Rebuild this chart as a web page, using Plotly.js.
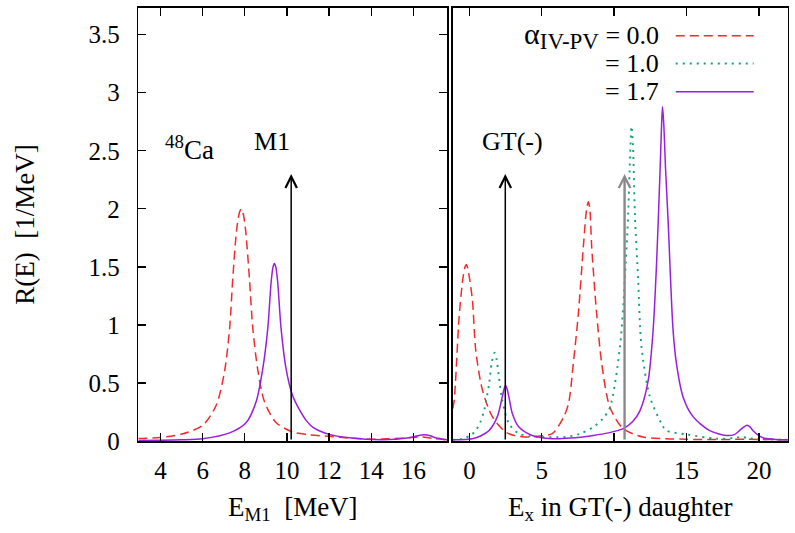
<!DOCTYPE html>
<html>
<head>
<meta charset="utf-8">
<script src="https://cdn.plot.ly/plotly-3.0.1.min.js"></script>
<style>html,body{margin:0;padding:0;background:#fff;}#plot{width:795px;height:533px;}</style>
</head>
<body>
<div id="plot"></div>
<script>
// ---- M1 strength in 48Ca (left panel) ----
const m1E_a00 = [2.95, 3.97, 5.07, 6.01, 6.65, 7.04, 7.28, 7.43, 7.62, 7.75, 7.83, 7.92, 8.03, 8.22, 8.38, 8.61, 8.93, 9.48, 10.27, 11.0, 12.0, 13.0, 14.05, 15.0, 15.94, 16.42, 16.9, 17.6];
const m1R_a00 = [0.022, 0.03, 0.063, 0.135, 0.31, 0.60, 0.97, 1.40, 1.83, 1.97, 2.00, 1.96, 1.83, 1.40, 0.97, 0.62, 0.34, 0.16, 0.077, 0.055, 0.04, 0.025, 0.015, 0.02, 0.03, 0.035, 0.022, 0.01];

const m1E_a17 = [2.95, 3.97, 5.0, 6.01, 7.28, 8.07, 8.54, 8.85, 9.09, 9.25, 9.34, 9.40, 9.47, 9.56, 9.72, 9.96, 10.27, 10.59, 10.9, 11.22, 12.0, 12.95, 14.53, 15.79, 16.2, 16.5, 16.8, 17.05, 17.6];
const m1R_a17 = [0.004, 0.006, 0.01, 0.02, 0.07, 0.16, 0.34, 0.62, 0.97, 1.37, 1.50, 1.53, 1.50, 1.37, 0.97, 0.62, 0.39, 0.27, 0.18, 0.12, 0.057, 0.028, 0.011, 0.028, 0.045, 0.054, 0.045, 0.028, 0.01];

// ---- GT(-) strength (right panel) ----
const gtE_a00 = [-1.15, -1.05, -0.71, -0.45, -0.30, -0.21, -0.10, 0.21, 0.44, 0.90, 1.58, 2.5, 3.2, 4.11, 5.0, 5.72, 6.49, 6.86, 7.18, 7.53, 7.87, 8.10, 8.22, 8.32, 8.45, 8.79, 9.14, 9.71, 10.63, 12.0, 13.6, 15.0, 17.0, 19.0, 22.0];
const gtR_a00 = [0.28, 0.35, 1.07, 1.40, 1.50, 1.52, 1.48, 1.21, 0.78, 0.44, 0.21, 0.077, 0.045, 0.034, 0.045, 0.063, 0.2, 0.33, 0.67, 1.10, 1.67, 2.0, 2.06, 2.0, 1.67, 1.10, 0.67, 0.29, 0.106, 0.034, 0.02, 0.015, 0.012, 0.015, 0.01];

const gtE_a10 = [-1.15, -0.48, 0.1, 0.44, 0.75, 1.01, 1.36, 1.55, 1.74, 1.88, 2.04, 2.27, 2.73, 3.42, 4.2, 5.03, 6.0, 6.63, 7.6, 8.56, 9.2, 9.71, 10.4, 10.74, 10.97, 11.1, 11.2, 11.3, 11.43, 11.66, 11.89, 12.47, 13.27, 13.6, 15.0, 17.06, 18.2, 18.8, 19.3, 19.8, 22.0];
const gtR_a10 = [0.01, 0.02, 0.05, 0.09, 0.16, 0.26, 0.49, 0.68, 0.76, 0.70, 0.55, 0.35, 0.15, 0.063, 0.042, 0.034, 0.032, 0.034, 0.06, 0.12, 0.19, 0.29, 0.81, 1.39, 1.96, 2.45, 2.71, 2.55, 1.96, 1.39, 0.81, 0.38, 0.15, 0.09, 0.057, 0.02, 0.025, 0.035, 0.025, 0.018, 0.01];

const gtE_a17 = [-1.15, 0.21, 0.8, 1.36, 1.93, 2.27, 2.4, 2.5, 2.6, 2.73, 2.96, 3.42, 4.34, 5.72, 7.0, 8.56, 9.6, 10.63, 11.3, 11.78, 12.35, 12.69, 12.93, 13.15, 13.27, 13.34, 13.42, 13.55, 13.73, 14.07, 14.3, 14.76, 15.45, 16.6, 17.75, 18.3, 18.66, 18.95, 19.17, 19.4, 19.58, 20.27, 21.0, 22.0];
const gtR_a17 = [0.01, 0.02, 0.045, 0.09, 0.21, 0.38, 0.45, 0.48, 0.45, 0.38, 0.24, 0.12, 0.048, 0.02, 0.025, 0.048, 0.07, 0.106, 0.17, 0.26, 0.52, 0.95, 1.53, 2.25, 2.7, 2.88, 2.75, 2.35, 1.89, 0.955, 0.67, 0.38, 0.21, 0.09, 0.048, 0.055, 0.09, 0.12, 0.135, 0.12, 0.09, 0.028, 0.015, 0.01];

// energies marked by arrows
const m1ArrowE = [10.2];
const gtArrowE = [2.48, 10.72];
const arrowTop = 2.3;

// axis ticks
const m1Ticks = [4, 6, 8, 10, 12, 14, 16];
const gtTicks = [0, 5, 10, 15, 20];
const rTicks = [0, 0.5, 1, 1.5, 2, 2.5, 3, 3.5];
const rTickText = ['0', '0.5', '1', '1.5', '2', '2.5', '3', '3.5'];

const legendLabels = [
  '<span style="font-size:30px">α</span><sub><span style="font-size:23px">IV-PV</span></sub> = 0.0',
  '= 1.0', '= 1.7'
];

const FONT = 'Liberation Serif, DejaVu Serif, serif';
const RED = '#f42a2a', GREEN = '#12a27a', PURPLE = '#9a1ee0';

const redLine = {color: RED, width: 1.5, dash: '9px,5px', shape: 'spline', smoothing: 0.8};
const greenLine = {color: GREEN, width: 1.9, dash: '2px,5px', shape: 'spline', smoothing: 0.8};
const purpleLine = {color: PURPLE, width: 1.5, shape: 'spline', smoothing: 0.8};

const traces = [
  {x: m1E_a00, y: m1R_a00, xaxis: 'x', yaxis: 'y', mode: 'lines', line: redLine},
  {x: m1E_a17, y: m1R_a17, xaxis: 'x', yaxis: 'y', mode: 'lines', line: purpleLine},
  {x: gtE_a00, y: gtR_a00, xaxis: 'x2', yaxis: 'y2', mode: 'lines', line: redLine},
  {x: gtE_a10, y: gtR_a10, xaxis: 'x2', yaxis: 'y2', mode: 'lines', line: greenLine},
  {x: gtE_a17, y: gtR_a17, xaxis: 'x2', yaxis: 'y2', mode: 'lines', line: purpleLine}
];

const annotations = [];
function arrow(xref, yref, e, color, width, size) {
  annotations.push({
    xref: xref, yref: yref, axref: xref, ayref: yref,
    x: e, y: arrowTop, ax: e, ay: 0, text: '', showarrow: true,
    arrowhead: 5, arrowsize: size, arrowwidth: width, arrowcolor: color, standoff: 0
  });
}
m1ArrowE.forEach(e => arrow('x', 'y', e, '#000', 1.5, 1.5));
arrow('x2', 'y2', gtArrowE[0], '#000', 1.5, 1.5);
arrow('x2', 'y2', gtArrowE[1], '#8a8a8a', 2.4, 0.95);

const textFont = {family: FONT, size: 26, color: '#000'};
annotations.push({xref: 'x', yref: 'y', x: 5.4, y: 2.52, text: '<sup>48</sup>Ca', showarrow: false,
  font: {family: FONT, size: 27, color: '#000'}});
annotations.push({xref: 'x', yref: 'y', x: 9.3, y: 2.58, text: 'M1', showarrow: false, font: textFont});
annotations.push({xref: 'x2', yref: 'y2', x: 2.96, y: 2.58, text: 'GT(-)', showarrow: false, font: textFont});

// key: label on the left, line sample on the right
const keyY = [0.933, 0.881, 0.828];
const keyColors = [RED, GREEN, PURPLE];
const keyDash = ['9px,5px', '2px,5px', 'solid'];
const keyWidth = [1.5, 1.9, 1.5];
const shapes = [];
legendLabels.forEach((t, i) => {
  annotations.push({xref: 'paper', yref: 'paper', x: 0.831, y: keyY[i], xanchor: 'right', yanchor: 'middle',
    text: t, showarrow: false, font: textFont});
  shapes.push({type: 'line', xref: 'paper', yref: 'paper', x0: 0.850, x1: 0.948, y0: keyY[i], y1: keyY[i],
    line: {color: keyColors[i], width: keyWidth[i], dash: keyDash[i]}});
});

const tickFont = {family: FONT, size: 25, color: '#000'};
const titleFont = {family: FONT, size: 27, color: '#000'};
const common = {showline: true, linecolor: '#000', linewidth: 1.5, ticks: 'inside', ticklen: 8,
  tickwidth: 1.3, tickcolor: '#000', showgrid: false, zeroline: false, tickfont: tickFont};

const layout = {
  width: 795, height: 533,
  margin: {l: 0, r: 0, t: 0, b: 0},
  paper_bgcolor: '#fff', plot_bgcolor: '#fff',
  showlegend: false,
  font: {family: FONT, color: '#000'},
  xaxis: Object.assign({}, common, {
    domain: [0.174, 0.5625], range: [2.95, 17.6], anchor: 'y', mirror: 'ticks',
    tickvals: m1Ticks, ticklabelstandoff: 6,
    title: {text: 'E<sub>M1</sub>  [MeV]', font: titleFont, standoff: 14}
  }),
  yaxis: Object.assign({}, common, {
    domain: [0.1726, 0.985], range: [0, 3.73], anchor: 'x', mirror: 'ticks',
    tickvals: rTicks, ticktext: rTickText, ticklabelstandoff: 12,
    title: {text: 'R(E)  [1/MeV]', font: titleFont, standoff: 46}
  }),
  xaxis2: Object.assign({}, common, {
    domain: [0.5695, 0.991], range: [-1.15, 22], anchor: 'y2', mirror: 'ticks',
    tickvals: gtTicks, ticklabelstandoff: 6,
    title: {text: 'E<sub>x</sub> in GT(-) daughter', font: titleFont, standoff: 14}
  }),
  yaxis2: Object.assign({}, common, {
    domain: [0.1726, 0.985], range: [0, 3.73], anchor: 'x2', matches: 'y', mirror: true,
    ticks: '', showticklabels: false
  }),
  annotations: annotations,
  shapes: shapes
};

Plotly.newPlot('plot', traces, layout, {displayModeBar: false, staticPlot: true});
</script>
</body>
</html>
